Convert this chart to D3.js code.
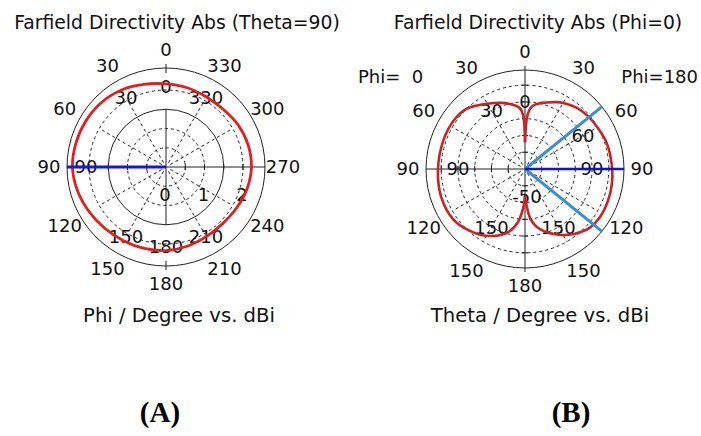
<!DOCTYPE html>
<html lang="en">
<head>
<meta charset="UTF-8">
<title>Farfield Directivity Abs</title>
<script src="https://d3js.org/d3.v7.min.js"></script>
<style>
    body { margin: 0; background: #fff; }
    svg { display: block; }
    .lbl { font-family: "DejaVu Sans", sans-serif; font-size: 18px; fill: #111; }
    .ttl { font-family: "DejaVu Sans", sans-serif; font-size: 18.8px; fill: #111; }
    .axc { font-family: "DejaVu Sans", sans-serif; font-size: 19.6px; fill: #111; }
    .cap { font-family: "Liberation Serif", serif; font-weight: bold; font-size: 29px; fill: #000; }
    .grid { fill: none; stroke: #222; stroke-width: 1; }
    .dash { fill: none; stroke: #222; stroke-width: 1; stroke-dasharray: 3,3; }
</style>
</head>
<body>
<svg id="chart" width="701" height="436"></svg>
<script>
// ---- (A) Theta = 90 cut, Phi sweep ----
const phiA = [0, 15, 30, 45, 60, 75, 90, 105, 120, 135, 150, 165,
              180, 195, 210, 225, 240, 255, 270, 285, 300, 315, 330, 345];
const dbiA = [2.16, 2.22, 2.31, 2.37, 2.40, 2.42, 2.43, 2.38, 2.31, 2.25, 2.21, 2.19,
              2.17, 2.13, 2.09, 2.08, 2.12, 2.18, 2.22, 2.21, 2.17, 2.11, 2.10, 2.13];
const outerLabelsA = [0, 30, 60, 90, 120, 150, 180, 210, 240, 270, 300, 330];
const innerLabelsA = [0, 30, 90, 150, 180, 210, 330];
const radialTicksA = [0, 1, 2];
const mainLobeA = 90;

// ---- (B) Phi = 0 / 180 cut, Theta sweep ----
const thetaB0 = [0, 2, 5, 13, 20, 30, 37, 44, 56, 71, 90, 108, 125, 138, 150, 164, 172, 177, 180];
const dbiB0 = [-34, -18, -13.5, -10.2, -8, -5, -2.5, 0, 1.4, 1.6, 1.9, 2.7, 2.3, -0.5, -4, -10.3, -17.5, -26, -34];
const thetaB180 = [0, 2, 4, 7, 12, 18, 25, 30, 40, 50, 60, 73, 90, 100, 111, 123, 132, 143, 150, 154, 160, 166, 170, 174, 177, 180];
const dbiB180 = [-34, -20, -15, -12, -10, -8.3, -6, -4.5, -2.2, -0.9, -0.2, 1.2, 2.0, 2.6, 3.0, 3.1, 2.2, -1.5, -4.5, -6.5, -9.5, -13, -16, -20.5, -27, -34];
const outerLabelsB = [0, 30, 60, 90, 120, 150, 180];
const innerLabelsB0 = [0, 30, 90, 150];
const innerLabelsB180 = [60, 90, 150];
const mainLobeB = 90;
const beamEdgesB = [51, 129];

const svg = d3.select("#chart");
const rad = d => d * Math.PI / 180;

// point on a polar chart, angle measured from 12 o'clock, clockwise positive
function pt(r, deg) {
    return [r * Math.sin(rad(deg)), -r * Math.cos(rad(deg))];
}

function addText(g, x, y, t, cls) {
    return g.append("text").attr("class", cls || "lbl")
        .attr("x", x).attr("y", y)
        .attr("text-anchor", "middle").attr("dy", "0.36em")
        .text(t);
}

// common grid drawing
function drawGrid(g, rOuter, rings, dashedRings, spokeR) {
    g.append("circle").attr("class", "grid").attr("r", rOuter);
    rings.forEach(r => g.append("circle").attr("class", "grid").attr("r", r));
    dashedRings.forEach(r => g.append("circle").attr("class", "dash").attr("r", r));
    d3.range(0, 360, 30).filter(a => a % 90 !== 0).forEach(a => {
        const p0 = pt(5, a), p1 = pt(spokeR, a);
        g.append("line").attr("class", "dash")
            .attr("x1", p0[0]).attr("y1", p0[1]).attr("x2", p1[0]).attr("y2", p1[1]);
    });
}

// ================= chart A =================
const cxA = 166, cyA = 167, rOutA = 99;
const rA = d3.scaleLinear().domain([0, 2]).range([0, 77]);
const gA = svg.append("g").attr("transform", `translate(${cxA},${cyA})`);

drawGrid(gA, rOutA, [rA(1.5)], [rA(0.5), rA(1), rA(2)], rA(2));
// crosshair
gA.append("line").attr("class", "grid").attr("x1", -rOutA).attr("x2", rOutA).attr("y1", 0).attr("y2", 0);
gA.append("line").attr("class", "grid").attr("x1", 0).attr("x2", 0).attr("y1", -rA(1.5)).attr("y2", rA(1.5));
[-1, 1].forEach(s => gA.append("line").attr("class", "grid")
    .attr("x1", 0).attr("x2", 0).attr("y1", s * (rOutA - 5)).attr("y2", s * (rOutA + 4)));
radialTicksA.slice(1).concat([0.5, 1.5]).forEach(v => {
    gA.append("line").attr("class", "grid").attr("x1", rA(v)).attr("x2", rA(v)).attr("y1", -3).attr("y2", 3);
    gA.append("line").attr("class", "grid").attr("x1", -rA(v)).attr("x2", -rA(v)).attr("y1", -3).attr("y2", 3);
});

outerLabelsA.forEach(a => {
    const p = pt(117, -a);
    addText(gA, p[0], p[1], a);
});
innerLabelsA.forEach(a => {
    const p = pt(80, -a);
    addText(gA, p[0], p[1], a);
});
radialTicksA.forEach(v => addText(gA, rA(v) - 1, 28, v));

gA.append("path")
    .datum(phiA.map((p, i) => [rad(-p), rA(dbiA[i])]))
    .attr("d", d3.lineRadial().angle(d => d[0]).radius(d => d[1]).curve(d3.curveCatmullRomClosed))
    .attr("fill", "none").attr("stroke", "#e41e1e").attr("stroke-width", 2.8);

const mA = pt(rOutA, -mainLobeA);
gA.append("line").attr("x1", 0).attr("y1", 0).attr("x2", mA[0]).attr("y2", mA[1])
    .attr("stroke", "#1414f0").attr("stroke-width", 3);

// ================= chart B =================
const cxB = 525, cyB = 169, rOutB = 99;
const rB = d3.scaleLinear().domain([-50, 2.2]).range([0, 87.5]);
const gB = svg.append("g").attr("transform", `translate(${cxB},${cyB})`);

drawGrid(gB, rOutB, [], [rB(-40), rB(-30), rB(-20), rB(-10), rB(0)], rB(0));
gB.append("line").attr("class", "grid").attr("x1", -rOutB).attr("x2", rOutB).attr("y1", 0).attr("y2", 0);
gB.append("line").attr("class", "grid").attr("x1", 0).attr("x2", 0).attr("y1", -rOutB - 4).attr("y2", rOutB + 4);
[-40, -30, -20, -10, 0].forEach(v => {
    gB.append("line").attr("class", "grid").attr("x1", -rB(v)).attr("x2", -rB(v)).attr("y1", -3).attr("y2", 3);
    gB.append("line").attr("class", "grid").attr("y1", rB(v)).attr("y2", rB(v)).attr("x1", -3).attr("x2", 3);
    gB.append("line").attr("class", "grid").attr("y1", -rB(v)).attr("y2", -rB(v)).attr("x1", -3).attr("x2", 3);
});

outerLabelsB.forEach(a => {
    const p = pt(117, -a);
    addText(gB, p[0], p[1], a);
    if (a > 0 && a < 180) {
        const q = pt(117, a);
        addText(gB, q[0], q[1], a);
    }
});
innerLabelsB0.forEach(a => { const p = pt(67, -a); addText(gB, p[0], p[1], a); });
innerLabelsB180.forEach(a => { const p = pt(67, a); addText(gB, p[0], p[1], a); });
addText(gB, 2, 28, rB.domain()[0]);

const lobe = d3.lineRadial().angle(d => d[0]).radius(d => d[1]).curve(d3.curveCatmullRom);
gB.append("path")
    .datum(thetaB0.map((t, i) => [rad(-t), rB(dbiB0[i])]))
    .attr("d", lobe).attr("fill", "none").attr("stroke", "#cc2222").attr("stroke-width", 2.6);
gB.append("path")
    .datum(thetaB180.map((t, i) => [rad(t), rB(dbiB180[i])]))
    .attr("d", lobe).attr("fill", "none").attr("stroke", "#cc2222").attr("stroke-width", 2.6);

beamEdgesB.forEach(a => {
    const p = pt(rOutB, a);
    gB.append("line").attr("x1", 0).attr("y1", 0).attr("x2", p[0]).attr("y2", p[1])
        .attr("stroke", "#3a8fd2").attr("stroke-width", 3);
});
const mB = pt(rOutB, mainLobeB);
gB.append("line").attr("x1", 0).attr("y1", 0).attr("x2", mB[0]).attr("y2", mB[1])
    .attr("stroke", "#1212c8").attr("stroke-width", 2.6);

// ---- titles and captions ----
addText(svg, 177, 22, "Farfield Directivity Abs (Theta=90)", "ttl");
addText(svg, 538, 22, "Farfield Directivity Abs (Phi=0)", "ttl");
addText(svg, 179, 315, "Phi / Degree vs. dBi", "axc");
addText(svg, 540, 315, "Theta / Degree vs. dBi", "axc");
svg.append("text").attr("class", "lbl").attr("x", 358).attr("y", 77).attr("dy", "0.36em").text("Phi=\u00a0 0");
svg.append("text").attr("class", "lbl").attr("x", 698).attr("y", 77).attr("dy", "0.36em")
    .attr("text-anchor", "end").text("Phi=180");

svg.append("text").attr("class", "cap").attr("x", 160).attr("y", 422).attr("text-anchor", "middle").text("(A)");
svg.append("text").attr("class", "cap").attr("x", 571).attr("y", 422).attr("text-anchor", "middle").text("(B)");
</script>
</body>
</html>
